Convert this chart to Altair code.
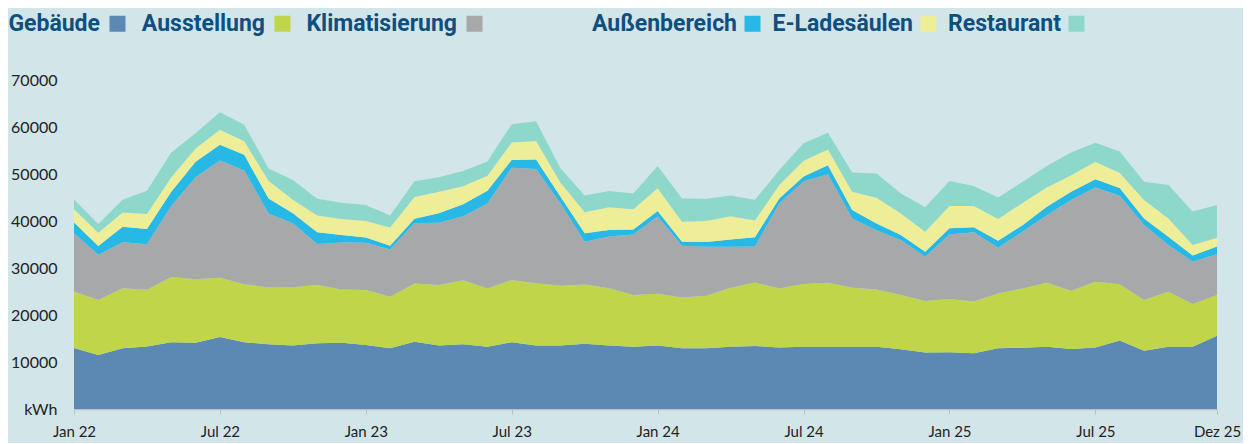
import altair as alt
import pandas as pd

months = list(range(48))
tick_values = [0, 6, 12, 18, 24, 30, 36, 42, 47]
tick_labels = ["Jan 22", "Jul 22", "Jan 23", "Jul 23", "Jan 24", "Jul 24", "Jan 25", "Jul 25", "Dez 25"]
categories = ["Gebäude", "Ausstellung", "Klimatisierung", "Außenbereich", "E-Ladesäulen", "Restaurant"]
colors = ["#5b89b4", "#c1d54a", "#a7a8aa", "#27b8e5", "#eeed98", "#8dd8cb"]

gebaeude = [13000, 11500, 12900, 13300, 14200, 14100, 15300, 14200, 13800, 13500, 14000, 14100,
            13600, 12900, 14300, 13500, 13800, 13250, 14200, 13500, 13500, 13900, 13500, 13250,
            13500, 12900, 12900, 13250, 13400, 13100, 13250, 13250, 13250, 13250, 12700, 12000,
            12050, 11850, 12900, 13050, 13250, 12750, 13100, 14550, 12400, 13250, 13250, 15600]
ausstellung = [12000, 11700, 12800, 12050, 13900, 13500, 12650, 12350, 12050, 12400, 12400, 11350,
               11700, 11000, 12400, 12900, 13600, 12400, 13250, 13250, 12700, 12600, 12200, 11000,
               11000, 10850, 11200, 12550, 13500, 12550, 13350, 13600, 12550, 12200, 11550, 11000,
               11350, 11000, 11700, 12600, 13600, 12400, 14000, 12000, 10800, 11700, 9100, 8650]
klimatisierung = [12400, 9600, 9800, 9700, 15100, 21700, 24900, 24200, 15750, 13600, 8700, 10000,
                  10050, 10050, 12900, 13250, 13600, 18100, 23900, 24300, 17600, 9100, 11000, 12900,
                  16450, 11000, 10400, 8700, 7650, 18100, 21800, 23100, 14750, 12600, 11700, 9400,
                  13750, 14750, 9700, 12050, 14400, 19300, 20050, 18800, 15950, 9950, 9000, 8650]
aussenbereich = [2300, 1900, 3300, 3250, 3050, 3300, 3350, 3350, 3200, 2150, 2500, 1550,
                 1150, 800, 900, 2000, 2550, 2700, 1650, 2050, 1400, 1800, 1400, 1050,
                 1200, 850, 1050, 1550, 2000, 1050, 1050, 1900, 1800, 1400, 1050, 1050,
                 1300, 1050, 1500, 1400, 1800, 1750, 1750, 1650, 1400, 1750, 1300, 1650]
ladesaeulen = [2800, 2800, 3000, 3200, 3050, 2850, 3200, 2850, 3750, 2850, 3550, 3400,
               3500, 3850, 4600, 4600, 3850, 3200, 3700, 3900, 3000, 4450, 4800, 4300,
               4800, 4250, 4450, 4950, 3550, 2850, 3350, 3350, 3900, 5500, 4600, 4250,
               4750, 4550, 4600, 4750, 4100, 3550, 3700, 3200, 3900, 3900, 2250, 1900]
restaurant = [2100, 1850, 2700, 4950, 5250, 3200, 3750, 3550, 2600, 4250, 3600, 3500,
              3400, 2550, 3350, 3050, 3250, 3000, 3900, 4250, 3050, 3550, 3500, 3350,
              4750, 4950, 4750, 4450, 4400, 3200, 3750, 3600, 4050, 5150, 4250, 5200,
              5300, 4250, 4600, 4450, 4550, 4800, 4050, 4600, 3900, 7100, 7100, 6950]

series = [gebaeude, ausstellung, klimatisierung, aussenbereich, ladesaeulen, restaurant]

rows = []
for s, (name, vals) in enumerate(zip(categories, series)):
    for m, v in zip(months, vals):
        rows.append({"monat": m, "kategorie": name, "kwh": v, "ord": s})
df = pd.DataFrame(rows)

label_array = [""] * 48
for v, l in zip(tick_values, tick_labels):
    label_array[v] = l
x_label_expr = "[" + ",".join("'" + l + "'" for l in label_array) + "][datum.value]"

x_enc = alt.X("monat:Q",
              scale=alt.Scale(domain=[0, 47], nice=False, zero=False),
              axis=alt.Axis(values=tick_values, labelExpr=x_label_expr, title=None,
                            grid=False, domain=True, domainColor="#b5c3c8", domainWidth=1.5,
                            ticks=True, tickColor="#b5c3c8", tickSize=5, tickWidth=1,
                            labelFont="Lato", labelFontSize=15, labelColor="#222222",
                            labelPadding=10, labelFlush=False, labelOverlap=False))
y_enc = alt.Y("y1:Q",
              scale=alt.Scale(domain=[0, 70000], nice=False),
              axis=alt.Axis(values=list(range(0, 70001, 10000)),
                            labelExpr="datum.value == 0 ? 'kWh' : format(datum.value, 'd')",
                            title=None, grid=False, domain=False, ticks=False,
                            labelFont="Lato", labelFontSize=16, labelColor="#222222",
                            labelPadding=17))


def legend_at(x, pad, offset):
    return alt.Legend(orient="none", legendX=x, legendY=-68,
                      direction="horizontal", title=None,
                      labelFont="Roboto", labelFontWeight="bold",
                      labelFontSize=23, labelColor="#0e4f80",
                      symbolType="square", symbolSize=256,
                      symbolStrokeWidth=0, symbolOpacity=1,
                      labelAlign="right", labelOffset={"expr": str(offset)},
                      columnPadding=pad, labelLimit=0)


base = alt.Chart(df).transform_stack(
    stack="kwh", groupby=["monat"], as_=["y0", "y1"],
    sort=[alt.SortField("ord", order="ascending")],
)

layer1 = base.transform_filter("datum.ord < 3").mark_area(interpolate="linear", opacity=1).encode(
    x=x_enc, y=y_enc, y2="y0:Q",
    color=alt.Color("kategorie:N",
                    scale=alt.Scale(domain=categories[:3], range=colors[:3]),
                    legend=legend_at(32, 15, -29)),
)
layer2 = base.transform_filter("datum.ord >= 3").mark_area(interpolate="linear", opacity=1).encode(
    x=x_enc, y=y_enc, y2="y0:Q",
    color=alt.Color("kategorie:N",
                    scale=alt.Scale(domain=categories[3:], range=colors[3:]),
                    legend=legend_at(667, 11, -27)),
)

chart = alt.layer(layer1, layer2).resolve_scale(color="independent").properties(
    width=1143, height=329,
    autosize=alt.AutoSizeParams(type="none"),
    padding={"left": 66, "top": 72, "right": 26, "bottom": 34},
    background="#d2e5e9",
).configure_view(stroke=None)

chart.save("out.html", embed_options={"renderer": "svg", "actions": False})
